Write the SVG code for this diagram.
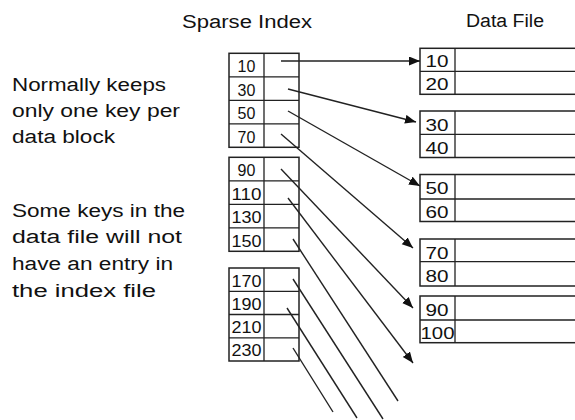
<svg xmlns="http://www.w3.org/2000/svg" width="575" height="420" viewBox="0 0 575 420">
<style>
text{font-family:"Liberation Sans",Arial,sans-serif;fill:#111}
.lbl{font-size:18px}
.title{font-size:18px}
.ik{font-size:16px;text-anchor:middle}
.dk{font-size:17px;text-anchor:middle}
.box{fill:#fff;stroke:#222;stroke-width:1.5}
.div{stroke:#222;stroke-width:1.3;fill:none}
.con{stroke:#222;stroke-width:1.4;fill:none}
</style>
<defs>
<marker id="ah" markerUnits="userSpaceOnUse" markerWidth="12" markerHeight="10" refX="11" refY="4.5" orient="auto">
<path d="M0,0 L11,4.5 L0,9 z" fill="#111"/>
</marker>
</defs>
<rect width="575" height="420" fill="#fff"/>

<text class="title" x="182" y="28" textLength="130" lengthAdjust="spacingAndGlyphs">Sparse Index</text>
<text class="title" x="466" y="27" textLength="78" lengthAdjust="spacingAndGlyphs">Data File</text>

<g id="note1">
<text class="lbl" x="12" y="90.7" textLength="154" lengthAdjust="spacingAndGlyphs">Normally keeps</text>
<text class="lbl" x="12" y="116.5" textLength="168" lengthAdjust="spacingAndGlyphs">only one key per</text>
<text class="lbl" x="12" y="143" textLength="103" lengthAdjust="spacingAndGlyphs">data block</text>
</g>
<g id="note2">
<text class="lbl" x="12" y="216.7" textLength="173" lengthAdjust="spacingAndGlyphs">Some keys in the</text>
<text class="lbl" x="12" y="243.3" textLength="170" lengthAdjust="spacingAndGlyphs">data file will not</text>
<text class="lbl" x="12" y="270" textLength="161" lengthAdjust="spacingAndGlyphs">have an entry in</text>
<text class="lbl" x="12" y="296.7" textLength="144" lengthAdjust="spacingAndGlyphs">the index file</text>
</g>

<g id="index1">
<rect class="box" x="229" y="53.3" width="70" height="94"/>
<path class="div" d="M264,53.3 V147.3 M229,76.8 H299 M229,100.3 H299 M229,123.8 H299"/>
<text class="ik" x="246.5" y="72">10</text>
<text class="ik" x="246.5" y="95.5">30</text>
<text class="ik" x="246.5" y="119">50</text>
<text class="ik" x="246.5" y="142.5">70</text>
</g>
<g id="index2">
<rect class="box" x="229" y="157.3" width="70" height="94"/>
<path class="div" d="M264,157.3 V251.3 M229,180.8 H299 M229,204.3 H299 M229,227.8 H299"/>
<text class="ik" x="246.5" y="176">90</text>
<text class="ik" x="246.5" y="199.5" textLength="30" lengthAdjust="spacingAndGlyphs">110</text>
<text class="ik" x="246.5" y="223" textLength="30" lengthAdjust="spacingAndGlyphs">130</text>
<text class="ik" x="246.5" y="246.5" textLength="30" lengthAdjust="spacingAndGlyphs">150</text>
</g>
<g id="index3">
<rect class="box" x="229" y="268" width="70" height="93"/>
<path class="div" d="M264,268 V361 M229,291.3 H299 M229,314.5 H299 M229,337.8 H299"/>
<text class="ik" x="246.5" y="286.5" textLength="30" lengthAdjust="spacingAndGlyphs">170</text>
<text class="ik" x="246.5" y="309.8" textLength="30" lengthAdjust="spacingAndGlyphs">190</text>
<text class="ik" x="246.5" y="333" textLength="30" lengthAdjust="spacingAndGlyphs">210</text>
<text class="ik" x="246.5" y="356.3" textLength="30" lengthAdjust="spacingAndGlyphs">230</text>
</g>

<g id="data1">
<rect class="box" x="420" y="48.3" width="170" height="46"/>
<path class="div" d="M455,48.3 V94.3 M420,71.3 H590"/>
<text class="dk" x="437" y="67.3" textLength="23" lengthAdjust="spacingAndGlyphs">10</text>
<text class="dk" x="437" y="90.3" textLength="23" lengthAdjust="spacingAndGlyphs">20</text>
</g>
<g id="data2">
<rect class="box" x="420" y="111" width="170" height="46.5"/>
<path class="div" d="M455,111 V157.5 M420,134.3 H590"/>
<text class="dk" x="437" y="130.5" textLength="23" lengthAdjust="spacingAndGlyphs">30</text>
<text class="dk" x="437" y="153.5" textLength="23" lengthAdjust="spacingAndGlyphs">40</text>
</g>
<g id="data3">
<rect class="box" x="420" y="174.5" width="170" height="47"/>
<path class="div" d="M455,174.5 V221.5 M420,199 H590"/>
<text class="dk" x="437" y="194.3" textLength="23" lengthAdjust="spacingAndGlyphs">50</text>
<text class="dk" x="437" y="217.5" textLength="23" lengthAdjust="spacingAndGlyphs">60</text>
</g>
<g id="data4">
<rect class="box" x="420" y="239" width="170" height="47"/>
<path class="div" d="M455,239 V286 M420,261.7 H590"/>
<text class="dk" x="437" y="258.5" textLength="23" lengthAdjust="spacingAndGlyphs">70</text>
<text class="dk" x="437" y="281.5" textLength="23" lengthAdjust="spacingAndGlyphs">80</text>
</g>
<g id="data5">
<rect class="box" x="420" y="296" width="170" height="46.7"/>
<path class="div" d="M455,296 V342.7 M420,320 H590"/>
<text class="dk" x="437" y="315.5" textLength="23" lengthAdjust="spacingAndGlyphs">90</text>
<text class="dk" x="437.5" y="339" textLength="34" lengthAdjust="spacingAndGlyphs">100</text>
</g>

<g id="connectors">
<line class="con" x1="281" y1="61" x2="420" y2="61" marker-end="url(#ah)"/>
<line class="con" x1="288" y1="89" x2="416" y2="122" marker-end="url(#ah)"/>
<line class="con" x1="288" y1="111" x2="420" y2="186" marker-end="url(#ah)"/>
<line class="con" x1="281" y1="134" x2="413" y2="248" marker-end="url(#ah)"/>
<line class="con" x1="281" y1="169" x2="413" y2="308" marker-end="url(#ah)"/>
<line class="con" x1="288" y1="198" x2="413" y2="363" marker-end="url(#ah)"/>
<line class="con" x1="293" y1="239" x2="398" y2="401"/>
<line class="con" x1="293" y1="279" x2="383" y2="419"/>
<line class="con" x1="287" y1="308" x2="357" y2="418"/>
<line class="con" x1="293" y1="348" x2="333" y2="412"/>
</g>
</svg>
